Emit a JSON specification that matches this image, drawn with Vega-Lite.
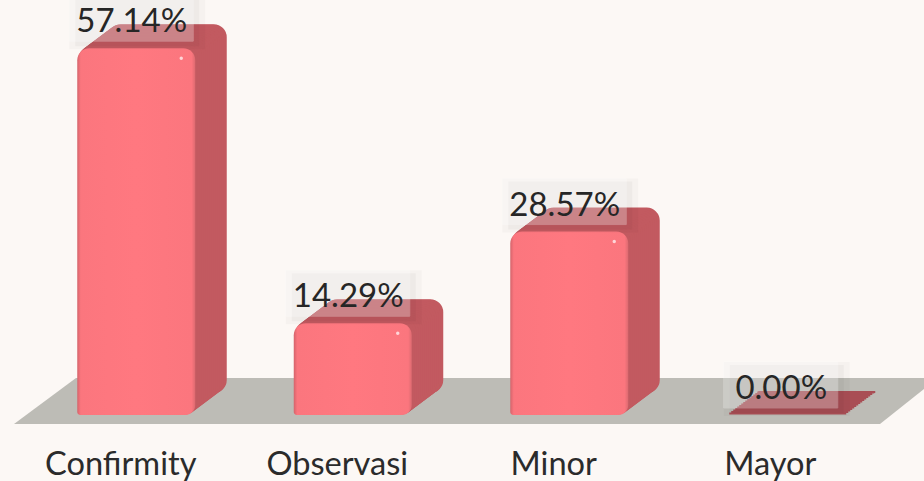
{"$schema":"https://vega.github.io/schema/vega-lite/v6.json","width":924,"height":440,"padding":{"left":0,"top":0,"right":0,"bottom":41},"autosize":{"type":"none"},"background":"#fcf8f5","view":{"stroke":null},"config":{"font":"Lato"},"resolve":{"scale":{"x":"independent"}},"layer":[{"data":{"values":[{"d":14,"t":-1.4,"b":-1.4},{"d":76,"t":5.76,"b":-1.4},{"d":880,"t":5.76,"b":-1.4},{"d":938,"t":5.76,"b":5.76}]},"mark":{"type":"area","color":"#bdbcb6","clip":true},"encoding":{"x":{"field":"d","type":"quantitative","scale":{"domain":[0,924],"nice":false,"zero":false},"axis":null},"y":{"field":"t","type":"quantitative","scale":{"domain":[-3.894,64.64],"nice":false,"zero":false},"axis":null},"y2":{"field":"b"}}},{"data":{"values":[{"c":"Confirmity","v":57.14,"l":"57.14%","base":0},{"c":"Observasi","v":14.29,"l":"14.29%","base":0},{"c":"Minor","v":28.57,"l":"28.57%","base":0},{"c":"Mayor","v":0,"l":"0.00%","base":0}]},"encoding":{"x":{"field":"c","type":"nominal","sort":null,"scale":{"range":[28,894],"paddingInner":0,"paddingOuter":0},"axis":{"title":null,"domain":false,"ticks":false,"labelAngle":0,"labelFont":"Lato","labelFontSize":32.6,"labelColor":"#2b2b2b","labelOffset":-15.5,"labelPadding":8,"labelBaseline":"top","grid":false}},"y":{"field":"v","type":"quantitative","axis":null,"stack":null}},"layer":[{"encoding":{"y2":{"field":"base"},"color":{"condition":{"test":"datum.v>0","value":"#c25a60"},"value":"#a94e55"},"stroke":{"condition":{"test":"datum.v>0","value":"#c25a60"},"value":"#a94e55"},"strokeWidth":{"value":2}},"layer":[{"mark":{"type":"bar","width":117,"cornerRadius":12,"xOffset":31,"yOffset":-23,"y2Offset":-23}},{"mark":{"type":"bar","width":117,"cornerRadius":12,"xOffset":30,"yOffset":-22.5,"y2Offset":-22.5}},{"mark":{"type":"bar","width":117,"cornerRadius":12,"xOffset":28,"yOffset":-21,"y2Offset":-21}},{"mark":{"type":"bar","width":117,"cornerRadius":12,"xOffset":26,"yOffset":-19.5,"y2Offset":-19.5}},{"mark":{"type":"bar","width":117,"cornerRadius":12,"xOffset":24,"yOffset":-18,"y2Offset":-18}},{"mark":{"type":"bar","width":117,"cornerRadius":12,"xOffset":22,"yOffset":-16.5,"y2Offset":-16.5}},{"mark":{"type":"bar","width":117,"cornerRadius":12,"xOffset":20,"yOffset":-15,"y2Offset":-15}},{"mark":{"type":"bar","width":117,"cornerRadius":12,"xOffset":18,"yOffset":-13.5,"y2Offset":-13.5}},{"mark":{"type":"bar","width":117,"cornerRadius":12,"xOffset":16,"yOffset":-12,"y2Offset":-12}},{"mark":{"type":"bar","width":117,"cornerRadius":12,"xOffset":14,"yOffset":-10.5,"y2Offset":-10.5}},{"mark":{"type":"bar","width":117,"cornerRadius":12,"xOffset":12,"yOffset":-9,"y2Offset":-9}},{"mark":{"type":"bar","width":117,"cornerRadius":12,"xOffset":10,"yOffset":-7.5,"y2Offset":-7.5}},{"mark":{"type":"bar","width":117,"cornerRadius":12,"xOffset":8,"yOffset":-6,"y2Offset":-6}},{"mark":{"type":"bar","width":117,"cornerRadius":12,"xOffset":6,"yOffset":-4.5,"y2Offset":-4.5}},{"mark":{"type":"bar","width":117,"cornerRadius":12,"xOffset":4,"yOffset":-3,"y2Offset":-3}},{"mark":{"type":"bar","width":117,"cornerRadius":12,"xOffset":2,"yOffset":-1.5,"y2Offset":-1.5}}]},{"transform":[{"filter":"datum.v>0"}],"encoding":{"y2":{"field":"base"}},"mark":{"type":"bar","width":118,"cornerRadiusTopLeft":12,"cornerRadiusTopRight":12,"cornerRadiusBottomLeft":3,"cornerRadiusBottomRight":10,"color":{"gradient":"linear","x1":0,"x2":1,"y1":0,"y2":0,"stops":[{"offset":0,"color":"#d4646b"},{"offset":0.03,"color":"#fb767e"},{"offset":0.5,"color":"#ff7880"},{"offset":0.97,"color":"#fb767e"},{"offset":1,"color":"#dc6a70"}]}}},{"transform":[{"filter":"datum.v>0"}],"mark":{"type":"point","shape":"circle","filled":true,"color":"#ffffff","opacity":0.7,"size":12,"xOffset":45,"yOffset":10}},{"mark":{"type":"tick","orient":"horizontal","thickness":54,"color":"#000000","opacity":0.025,"xOffset":1,"yOffset":-26},"encoding":{"size":{"condition":{"test":"datum.v>0","value":136},"value":126}}},{"mark":{"type":"tick","orient":"horizontal","thickness":48,"color":"#000000","opacity":0.03,"xOffset":1,"yOffset":-26},"encoding":{"size":{"condition":{"test":"datum.v>0","value":124},"value":114}}},{"mark":{"type":"tick","orient":"horizontal","thickness":46,"color":"#ffffff","opacity":0.28,"stroke":"#ffffff","strokeWidth":1,"xOffset":-5,"yOffset":-30},"encoding":{"size":{"condition":{"test":"datum.v>0","value":124},"value":114}}},{"mark":{"type":"text","font":"Lato","fontSize":33,"color":"#262626","xOffset":-4.5,"yOffset":-26},"encoding":{"text":{"field":"l"}}}]}]}
